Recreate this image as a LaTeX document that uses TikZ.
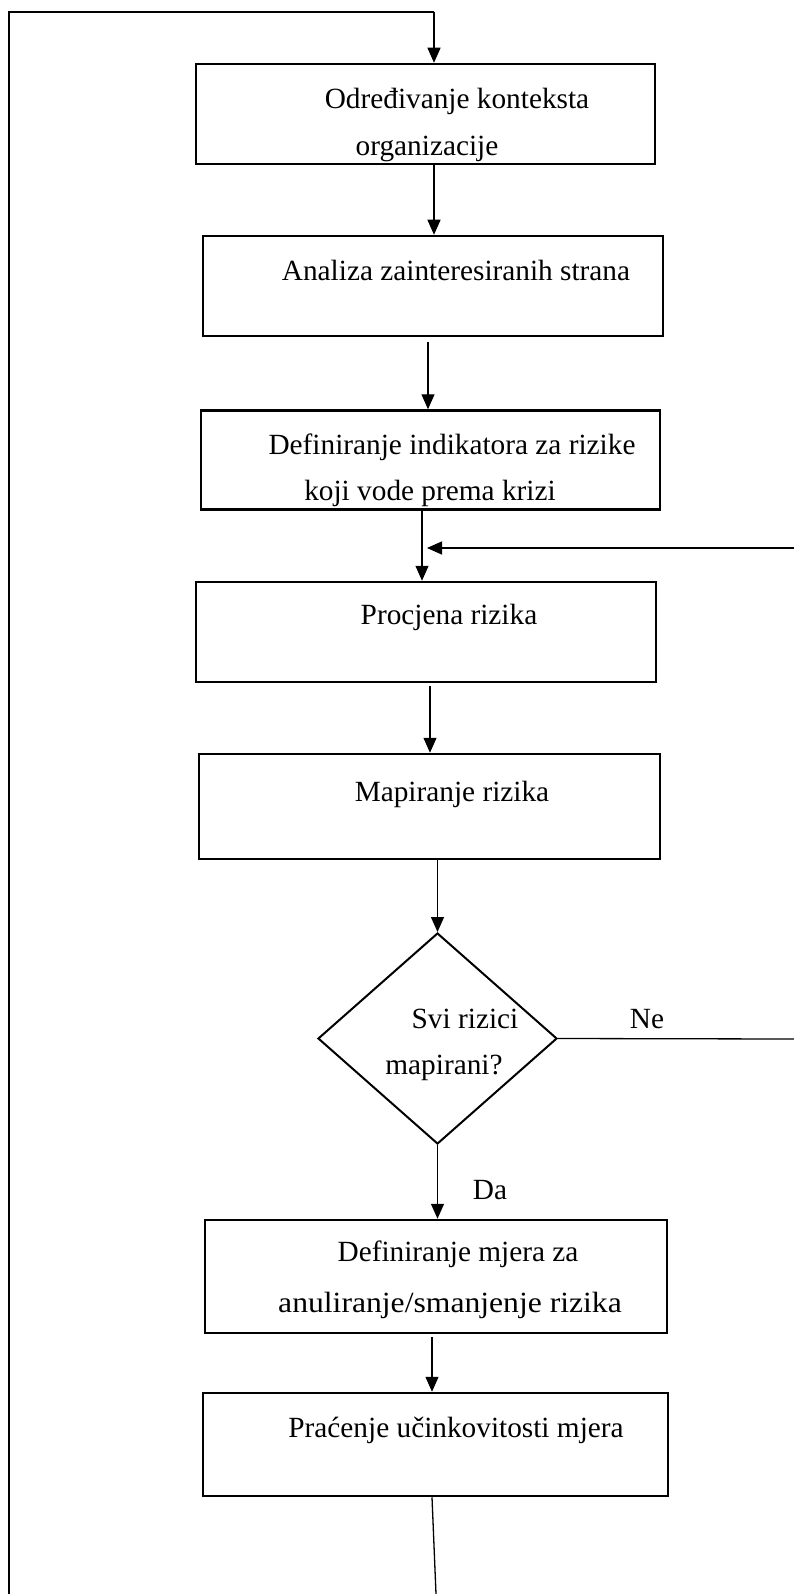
\documentclass[tikz,border=0pt]{standalone}
\usepackage{fontspec}
\setmainfont{Liberation Serif}
\usetikzlibrary{arrows.meta,shapes.geometric}
\begin{document}
\begin{tikzpicture}[x=1pt,y=-1pt,
  stepbox/.style={draw, line width=2.5pt, inner sep=0pt},
  decision/.style={draw, diamond, line width=2pt, inner sep=0pt, minimum width=239pt, minimum height=211pt},
  lbl/.style={inner sep=0pt, font=\fontsize{29.3}{35}\selectfont, text height=20pt, text depth=6pt},
  conn/.style={line width=1.3pt},
  arr/.style={conn, -{Triangle[length=15pt,width=13pt]}}]
\useasboundingbox (0,0) rectangle (794,1594);
% boxes
\node[stepbox, minimum width=459pt, minimum height=100pt] (b1) at (425.5,114) {};
\node[stepbox, minimum width=460pt, minimum height=100pt] (b2) at (433,286) {};
\node[stepbox, minimum width=459pt, minimum height=99pt] (b3) at (430.5,460) {};
\node[stepbox, minimum width=460pt, minimum height=100pt] (b4) at (426,632) {};
\node[stepbox, minimum width=461pt, minimum height=105pt] (b5) at (429.5,806.5) {};
\node[decision] (d) at (437.5,1038.5) {};
\node[stepbox, minimum width=462pt, minimum height=113pt] (b6) at (436,1276.5) {};
\node[stepbox, minimum width=465pt, minimum height=103pt] (b7) at (435.5,1444.5) {};
% texts
\node[lbl] (t1a) at (457,101.5) {Određivanje konteksta};
\node[lbl] (t1b) at (427,148.5) {organizacije};
\node[lbl] (t2) at (456,273.5) {Analiza zainteresiranih strana};
\node[lbl] (t3a) at (452,447) {Definiranje indikatora za rizike};
\node[lbl] (t3b) at (430,493.5) {koji vode prema krizi};
\node[lbl] (t4) at (449,617.5) {Procjena rizika};
\node[lbl] (t5) at (452,794.5) {Mapiranje rizika};
\node[lbl] (td1) at (465,1021.5) {Svi rizici};
\node[lbl] (td2) at (444,1067.5) {mapirani?};
\node[lbl] (tne) at (647,1021.5) {Ne};
\node[lbl] (tda) at (490,1192.5) {Da};
\node[lbl] (t6a) at (458,1254.5) {Definiranje mjera za};
\node[lbl] (t6b) at (450,1305.5) {\scalebox{1.08}[1]{anuliranje/smanjenje rizika}};
\node[lbl] (t7) at (456,1430.5) {Praćenje učinkovitosti mjera};
% coordinates
\coordinate (tl) at (9,12);
\coordinate (tr) at (434,12);
\coordinate (bl) at (9,1594);
\coordinate (bc) at (436,1594);
\coordinate (fbR) at (794,548);
\coordinate (fbL) at (422,548);
\coordinate (neR) at (794,1039);
\coordinate (c2) at (428,342);
\coordinate (c4) at (430,686);
\coordinate (c6) at (432,1337);
% connectors
\draw[conn] (bl) -- (tl) -- (tr);
\draw[arr] (tr) -- (tr |- b1.north);
\draw[arr] (b1.south -| tr) -- (b2.north -| tr);
\draw[arr] (c2) -- (c2 |- b3.north);
\draw[arr] (b3.south -| fbL) -- (b4.north -| fbL);
\draw[arr] (fbR) -- ([xshift=5pt]fbL);
\draw[arr] (c4) -- (c4 |- b5.north);
\draw[arr] (b5.south -| d.north) -- (d.north);
\draw[conn] (d.east) -- (neR);
\draw[arr] (d.south) -- (d.south |- b6.north);
\draw[arr] (c6) -- (c6 |- b7.north);
\draw[conn] (b7.south -| c6) -- (bc);
\end{tikzpicture}
\end{document}
